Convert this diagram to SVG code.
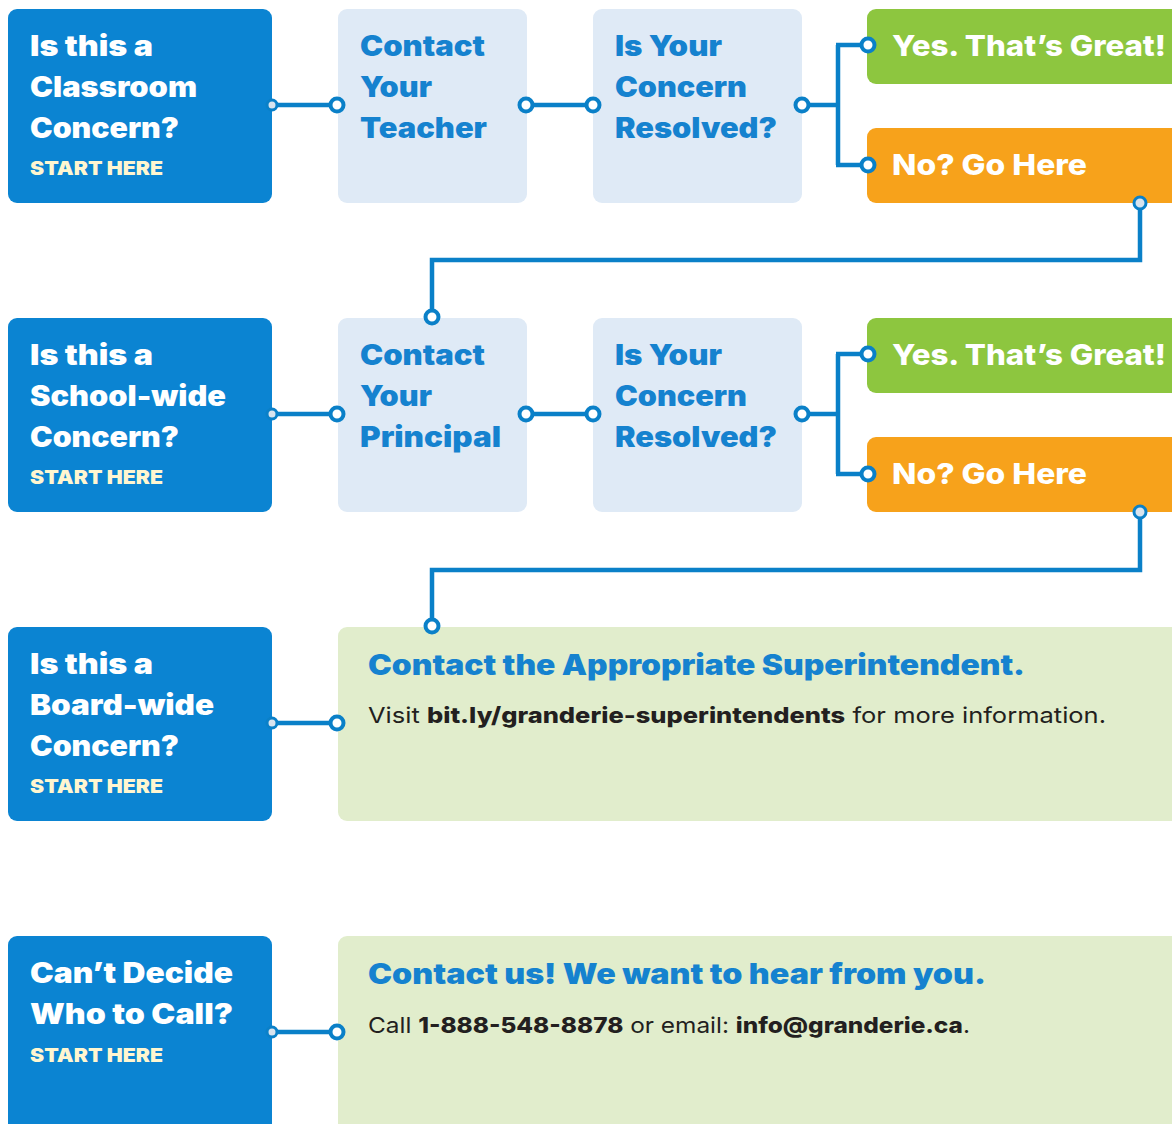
<svg xmlns="http://www.w3.org/2000/svg" width="1172" height="1124" viewBox="0 0 1172 1124">
<style>
.q{fill:#0b84d2}
.lb{fill:#dfeaf6}
.yes{fill:#8dc63f}
.no{fill:#f7a21b}
.lg{fill:#e1edcc}
.hw{font-family:Inter,"Open Sans","Liberation Sans",sans-serif;font-weight:900;font-size:28px;fill:#ffffff}
.sh{font-family:Inter,"Open Sans","Liberation Sans",sans-serif;font-weight:900;font-size:19px;fill:#fff6d0}
.hb{font-family:Inter,"Open Sans","Liberation Sans",sans-serif;font-weight:900;font-size:28px;fill:#1582cf}
.yn{font-family:Inter,"Open Sans","Liberation Sans",sans-serif;font-weight:800;font-size:29px;fill:#ffffff}
.body{font-family:Inter,"Liberation Sans",sans-serif;font-weight:400;font-size:22px;fill:#231f20}
.b{font-weight:800}
.ln{fill:none;stroke:#0a80c8;stroke-width:4.5}
.ring{fill:#ffffff;stroke:#0a80c8;stroke-width:4}
.dot{fill:#d8e4ef;stroke:#0a80c8;stroke-width:3}
</style>

<g id="connectors">
  <!-- row 1 -->
  <line class="ln" x1="272" y1="105" x2="337" y2="105"/>
  <line class="ln" x1="526" y1="105" x2="593" y2="105"/>
  <path class="ln" d="M802 105 H838 M838 45 V165 M836 45 H868 M836 165 H868"/>
  <path class="ln" d="M1140 203 V260 H432 V317"/>
  <!-- row 2 -->
  <line class="ln" x1="272" y1="414" x2="337" y2="414"/>
  <line class="ln" x1="526" y1="414" x2="593" y2="414"/>
  <path class="ln" d="M802 414 H838 M838 354 V474 M836 354 H868 M836 474 H868"/>
  <path class="ln" d="M1140 512 V570 H432 V626"/>
  <!-- row 3 -->
  <line class="ln" x1="272" y1="723" x2="337" y2="723"/>
  <!-- row 4 -->
  <line class="ln" x1="272" y1="1032" x2="337" y2="1032"/>
</g>

<g id="row1">
  <g id="q1"><rect class="q" x="8" y="9" width="264" height="194" rx="9"/>
    <text class="hw" x="30" y="56" textLength="123" lengthAdjust="spacingAndGlyphs">Is this a</text>
    <text class="hw" x="30" y="97" textLength="167" lengthAdjust="spacingAndGlyphs">Classroom</text>
    <text class="hw" x="30" y="138" textLength="149" lengthAdjust="spacingAndGlyphs">Concern?</text>
    <text class="sh" x="30" y="175" textLength="133" lengthAdjust="spacingAndGlyphs">START HERE</text>
  </g>
  <g id="teacher"><rect class="lb" x="338" y="9" width="189" height="194" rx="9"/>
    <text class="hb" x="360" y="56" textLength="125" lengthAdjust="spacingAndGlyphs">Contact</text>
    <text class="hb" x="360" y="97" textLength="72" lengthAdjust="spacingAndGlyphs">Your</text>
    <text class="hb" x="360" y="138" textLength="127" lengthAdjust="spacingAndGlyphs">Teacher</text>
  </g>
  <g id="resolved1"><rect class="lb" x="593" y="9" width="209" height="194" rx="9"/>
    <text class="hb" x="615" y="56" textLength="107" lengthAdjust="spacingAndGlyphs">Is Your</text>
    <text class="hb" x="615" y="97" textLength="132" lengthAdjust="spacingAndGlyphs">Concern</text>
    <text class="hb" x="615" y="138" textLength="162" lengthAdjust="spacingAndGlyphs">Resolved?</text>
  </g>
  <g id="yes1"><rect class="yes" x="867" y="9" width="320" height="75" rx="9"/>
    <text class="yn" x="892" y="56" textLength="274" lengthAdjust="spacingAndGlyphs">Yes. That’s Great!</text>
  </g>
  <g id="no1"><rect class="no" x="867" y="128" width="320" height="75" rx="9"/>
    <text class="yn" x="892" y="175" textLength="195" lengthAdjust="spacingAndGlyphs">No? Go Here</text>
  </g>
</g>

<g id="row2">
  <g id="q2"><rect class="q" x="8" y="318" width="264" height="194" rx="9"/>
    <text class="hw" x="30" y="365" textLength="123" lengthAdjust="spacingAndGlyphs">Is this a</text>
    <text class="hw" x="30" y="406" textLength="196" lengthAdjust="spacingAndGlyphs">School-wide</text>
    <text class="hw" x="30" y="447" textLength="149" lengthAdjust="spacingAndGlyphs">Concern?</text>
    <text class="sh" x="30" y="484" textLength="133" lengthAdjust="spacingAndGlyphs">START HERE</text>
  </g>
  <g id="principal"><rect class="lb" x="338" y="318" width="189" height="194" rx="9"/>
    <text class="hb" x="360" y="365" textLength="125" lengthAdjust="spacingAndGlyphs">Contact</text>
    <text class="hb" x="360" y="406" textLength="72" lengthAdjust="spacingAndGlyphs">Your</text>
    <text class="hb" x="360" y="447" textLength="141" lengthAdjust="spacingAndGlyphs">Principal</text>
  </g>
  <g id="resolved2"><rect class="lb" x="593" y="318" width="209" height="194" rx="9"/>
    <text class="hb" x="615" y="365" textLength="107" lengthAdjust="spacingAndGlyphs">Is Your</text>
    <text class="hb" x="615" y="406" textLength="132" lengthAdjust="spacingAndGlyphs">Concern</text>
    <text class="hb" x="615" y="447" textLength="162" lengthAdjust="spacingAndGlyphs">Resolved?</text>
  </g>
  <g id="yes2"><rect class="yes" x="867" y="318" width="320" height="75" rx="9"/>
    <text class="yn" x="892" y="365" textLength="274" lengthAdjust="spacingAndGlyphs">Yes. That’s Great!</text>
  </g>
  <g id="no2"><rect class="no" x="867" y="437" width="320" height="75" rx="9"/>
    <text class="yn" x="892" y="484" textLength="195" lengthAdjust="spacingAndGlyphs">No? Go Here</text>
  </g>
</g>

<g id="row3">
  <g id="q3"><rect class="q" x="8" y="627" width="264" height="194" rx="9"/>
    <text class="hw" x="30" y="674" textLength="123" lengthAdjust="spacingAndGlyphs">Is this a</text>
    <text class="hw" x="30" y="715" textLength="184" lengthAdjust="spacingAndGlyphs">Board-wide</text>
    <text class="hw" x="30" y="756" textLength="149" lengthAdjust="spacingAndGlyphs">Concern?</text>
    <text class="sh" x="30" y="793" textLength="133" lengthAdjust="spacingAndGlyphs">START HERE</text>
  </g>
  <g id="superintendent"><rect class="lg" x="338" y="627" width="850" height="194" rx="9"/>
    <text class="hb" x="368" y="675" textLength="657" lengthAdjust="spacingAndGlyphs">Contact the Appropriate Superintendent.</text>
    <text class="body" x="368" y="723" textLength="738" lengthAdjust="spacingAndGlyphs">Visit <tspan class="b">bit.ly/granderie-superintendents</tspan> for more information.</text>
  </g>
</g>

<g id="row4">
  <g id="q4"><rect class="q" x="8" y="936" width="264" height="200" rx="9"/>
    <text class="hw" x="30" y="983" textLength="203" lengthAdjust="spacingAndGlyphs">Can’t Decide</text>
    <text class="hw" x="30" y="1024" textLength="203" lengthAdjust="spacingAndGlyphs">Who to Call?</text>
    <text class="sh" x="30" y="1062" textLength="133" lengthAdjust="spacingAndGlyphs">START HERE</text>
  </g>
  <g id="contact"><rect class="lg" x="338" y="936" width="850" height="200" rx="9"/>
    <text class="hb" x="368" y="984" textLength="618" lengthAdjust="spacingAndGlyphs">Contact us! We want to hear from you.</text>
    <text class="body" x="368" y="1033" textLength="602" lengthAdjust="spacingAndGlyphs">Call <tspan class="b">1-888-548-8878</tspan> or email: <tspan class="b">info@granderie.ca</tspan>.</text>
  </g>
</g>

<g id="terminals">
  <circle class="dot" cx="272" cy="105" r="5"/><circle class="ring" cx="337" cy="105" r="6.5"/>
  <circle class="ring" cx="526" cy="105" r="6.5"/><circle class="ring" cx="593" cy="105" r="6.5"/>
  <circle class="ring" cx="802" cy="105" r="6.5"/>
  <circle class="ring" cx="868" cy="45" r="6.5"/><circle class="ring" cx="868" cy="165" r="6.5"/>
  <circle class="dot" cx="1140" cy="203" r="6"/><circle class="ring" cx="432" cy="317" r="6.5"/>
  <circle class="dot" cx="272" cy="414" r="5"/><circle class="ring" cx="337" cy="414" r="6.5"/>
  <circle class="ring" cx="526" cy="414" r="6.5"/><circle class="ring" cx="593" cy="414" r="6.5"/>
  <circle class="ring" cx="802" cy="414" r="6.5"/>
  <circle class="ring" cx="868" cy="354" r="6.5"/><circle class="ring" cx="868" cy="474" r="6.5"/>
  <circle class="dot" cx="1140" cy="512" r="6"/><circle class="ring" cx="432" cy="626" r="6.5"/>
  <circle class="dot" cx="272" cy="723" r="5"/><circle class="ring" cx="337" cy="723" r="6.5"/>
  <circle class="dot" cx="272" cy="1032" r="5"/><circle class="ring" cx="337" cy="1032" r="6.5"/>
</g>
</svg>
